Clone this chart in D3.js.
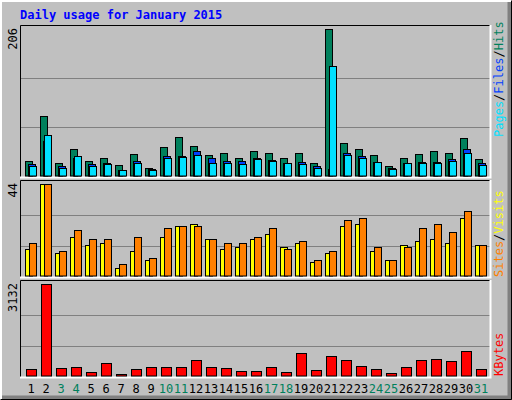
<!DOCTYPE html>
<html><head><meta charset="utf-8">
<script src="https://cdn.jsdelivr.net/npm/d3@7"></script>
<style>body{margin:0;background:#fff}svg{display:block}text{font-family:"DejaVu Sans Mono",monospace}</style>
</head><body><div id="chart"></div>
<script>
const days = d3.range(1, 32);
const weekends = [3, 4, 10, 11, 17, 18, 24, 25, 31];
const hits = [21,85,19,38,21,26,16,31,12,41,55,43,30,33,26,36,33,26,33,19,206,47,38,30,15,26,31,36,33,54,25];
const files = [17,50,15,26,17,19,9,21,10,29,29,36,26,21,21,26,23,19,20,15,10,33,29,20,12,19,20,20,25,38,19];
const pages = [15,58,12,29,14,17,9,19,9,26,27,30,19,19,17,25,21,19,17,12,155,30,26,20,10,19,19,19,21,33,16];
const visits = [13,44,11,19,15,16,4,12,8,19,24,25,18,13,14,18,20,14,16,7,11,24,25,12,8,15,17,18,16,28,15];
const sites = [16,44,12,22,18,18,6,19,9,23,24,24,18,16,16,19,23,13,17,8,12,27,28,14,8,14,23,25,21,31,15];
const kbytes = [251,3132,286,320,149,457,80,251,320,320,320,560,320,286,183,183,320,149,800,217,697,560,354,251,114,320,560,594,526,869,251];

const W = 512, H = 400, L = 20, R = 490;
const svg = d3.select("#chart").append("svg").attr("width", W).attr("height", H);

// frame
svg.append("rect").attr("width", W).attr("height", H).attr("fill", "#c0c0c0");
svg.append("path").attr("d", `M0,${H} V0 H${W}`).attr("stroke", "#fff").attr("stroke-width", 4).attr("fill", "none");
svg.append("path").attr("d", `M2,${H-2} H${W-2} V2`).attr("stroke", "#808080").attr("stroke-width", 5).attr("fill", "none");
svg.append("path").attr("d", `M0.5,${H-0.5} H${W-0.5} V0.5`).attr("stroke", "#000").attr("fill", "none");

svg.append("text").attr("x", 20).attr("y", 19).attr("font-size", 12).attr("font-weight", "bold")
  .attr("fill", "#0000ff").text("Daily usage for January 2015");

const x = d3.scaleBand().domain(days).range([L + 3, L + 3 + 15 * 31]).paddingInner(0);

const panels = [
  { top: 25, bot: 177, max: 206 },
  { top: 180, bot: 277, max: 44 },
  { top: 280, bot: 377, max: 3132 }
];

panels.forEach(p => {
  p.y = d3.scaleLinear().domain([0, p.max]).range([p.bot - 0.5, p.top + 4]);
  svg.append("rect").attr("x", L).attr("y", p.top).attr("width", R - L).attr("height", p.bot - p.top)
    .attr("fill", "#c0c0c0");
  [1, 2].forEach(k => {
    const gy = Math.round(p.y(p.max * k / 3)) + 0.5;
    svg.append("line").attr("x1", L).attr("x2", R).attr("y1", gy).attr("y2", gy).attr("stroke", "#808080");
  });
  svg.append("path").attr("d", `M${L+0.5},${p.bot} V${p.top+0.5} H${R}`).attr("stroke", "#000").attr("fill", "none");
  svg.append("path").attr("d", `M${L},${p.bot+0.5} H${R+0.5} V${p.top}`).attr("stroke", "#fff").attr("stroke-width", 2).attr("fill", "none");
  svg.append("text").attr("transform", `translate(17,${p.top + 3}) rotate(-90)`).attr("text-anchor", "end")
    .attr("font-size", 12).attr("fill", "#000").text(p.max);
});

function bars(vals, panel, dx, w, color) {
  const y = panel.y;
  svg.append("g").selectAll("rect").data(vals).enter().append("rect")
    .attr("x", (d, i) => x(days[i]) + dx + 0.5)
    .attr("y", d => Math.round(y(d)) + 0.5)
    .attr("width", w)
    .attr("height", d => panel.bot - 0.5 - Math.round(y(d)) - 1)
    .attr("fill", color).attr("stroke", "#000");
}
bars(hits, panels[0], 2, 7, "#00805c");
bars(files, panels[0], 5, 7, "#0040ff");
bars(pages, panels[0], 6, 7, "#00e0ff");
bars(visits, panels[1], 2, 7, "#ffff00");
bars(sites, panels[1], 6, 7, "#ff8000");
bars(kbytes, panels[2], 3, 10, "#ff0000");

// day labels
svg.append("g").selectAll("text").data(days).enter().append("text")
  .attr("x", d => x(d) + 8).attr("y", 393).attr("text-anchor", "middle").attr("font-size", 12)
  .attr("fill", d => weekends.includes(d) ? "#00805c" : "#000").text(d => d);

// right side legends
function legend(parts, yEnd) {
  const t = svg.append("text").attr("transform", `translate(503,${yEnd}) rotate(-90)`).attr("font-size", 12);
  parts.forEach(([s, c]) => t.append("tspan").attr("fill", c).text(s));
}
legend([["Pages", "#00e0ff"], ["/", "#000"], ["Files", "#0040ff"], ["/", "#000"], ["Hits", "#00805c"]], 137);
legend([["Sites", "#ff8000"], ["/", "#000"], ["Visits", "#ffff00"]], 277);
legend([["KBytes", "#ff0000"]], 376);
</script></body></html>
